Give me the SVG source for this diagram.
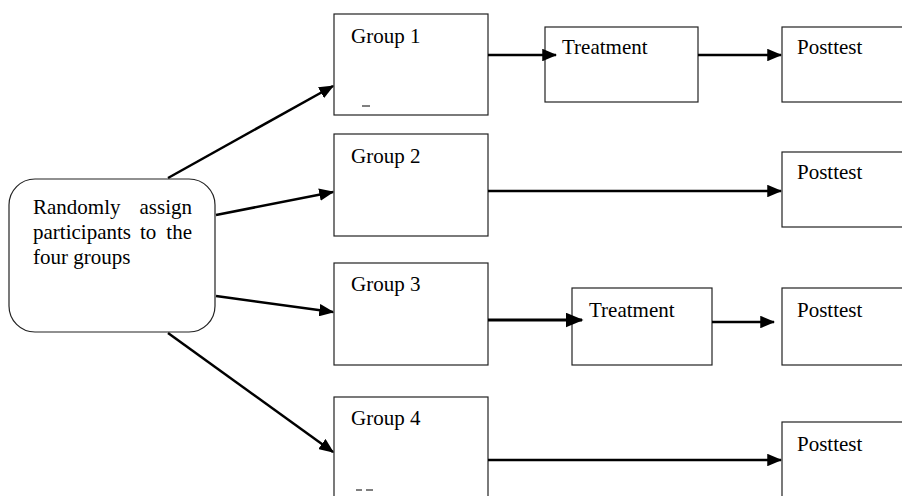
<svg xmlns="http://www.w3.org/2000/svg" width="902" height="496" viewBox="0 0 902 496">
<style>
.box{fill:#fff;stroke:#222;stroke-width:1.2}
.t{font-family:"Liberation Serif",serif;font-size:21px;fill:#000}
.c{stroke:#000;stroke-width:2.5;fill:none;marker-end:url(#ah)}
</style>
<defs>
<marker id="ah" markerWidth="6" markerHeight="5" refX="5.5" refY="2.5" orient="auto" markerUnits="strokeWidth">
<path d="M0,0 L6,2.5 L0,5 z" fill="#000"/>
</marker>
</defs>
<rect width="902" height="496" fill="#fff"/>
<g id="assign">
<rect class="box" x="9" y="179" width="206" height="153" rx="26"/>
<text class="t" x="33" y="214">Randomly</text>
<text class="t" x="192" y="214" text-anchor="end">assign</text>
<text class="t" x="33" y="239">participants</text>
<text class="t" x="140" y="239">to</text>
<text class="t" x="192" y="239" text-anchor="end">the</text>
<text class="t" x="33" y="264">four groups</text>
</g>
<g id="group1">
<rect class="box" x="334" y="14" width="154" height="101"/>
<text class="t" x="351" y="43">Group 1</text>
<line x1="362" y1="106" x2="370" y2="106" stroke="#000" stroke-width="1"/>
</g>
<g id="group2">
<rect class="box" x="334" y="134" width="154" height="102"/>
<text class="t" x="351" y="163">Group 2</text>
</g>
<g id="group3">
<rect class="box" x="334" y="263" width="154" height="102"/>
<text class="t" x="351" y="291">Group 3</text>
</g>
<g id="group4">
<rect class="box" x="334" y="397" width="154" height="110"/>
<text class="t" x="351" y="425">Group 4</text>
<line x1="356" y1="490" x2="362" y2="490" stroke="#000" stroke-width="1"/>
<line x1="366" y1="490" x2="373" y2="490" stroke="#000" stroke-width="1"/>
</g>
<g id="treatment1">
<rect class="box" x="545" y="27" width="153" height="75"/>
<text class="t" x="562" y="54">Treatment</text>
</g>
<g id="posttest1">
<rect class="box" x="782" y="27" width="130" height="75"/>
<text class="t" x="797" y="54">Posttest</text>
</g>
<g id="posttest2">
<rect class="box" x="782" y="152" width="130" height="75"/>
<text class="t" x="797" y="179">Posttest</text>
</g>
<g id="treatment2">
<rect class="box" x="572" y="288" width="140" height="77"/>
<text class="t" x="589" y="317">Treatment</text>
</g>
<g id="posttest3">
<rect class="box" x="782" y="288" width="130" height="77"/>
<text class="t" x="797" y="317">Posttest</text>
</g>
<g id="posttest4">
<rect class="box" x="782" y="422" width="130" height="80"/>
<text class="t" x="797" y="451">Posttest</text>
</g>
<g id="connectors">
<line class="c" x1="168" y1="178" x2="333" y2="86"/>
<line class="c" x1="216" y1="215" x2="333" y2="192"/>
<line class="c" x1="216" y1="296" x2="333" y2="312"/>
<line class="c" x1="168" y1="333" x2="333" y2="452"/>
<line class="c" x1="488" y1="55" x2="556" y2="55"/>
<line class="c" x1="698" y1="55" x2="781" y2="55"/>
<line class="c" x1="488" y1="191" x2="781" y2="191"/>
<line class="c" x1="488" y1="320" x2="582" y2="320" style="stroke-width:3"/>
<line class="c" x1="712" y1="322" x2="774" y2="322"/>
<line class="c" x1="488" y1="460" x2="781" y2="460"/>
</g>
</svg>
